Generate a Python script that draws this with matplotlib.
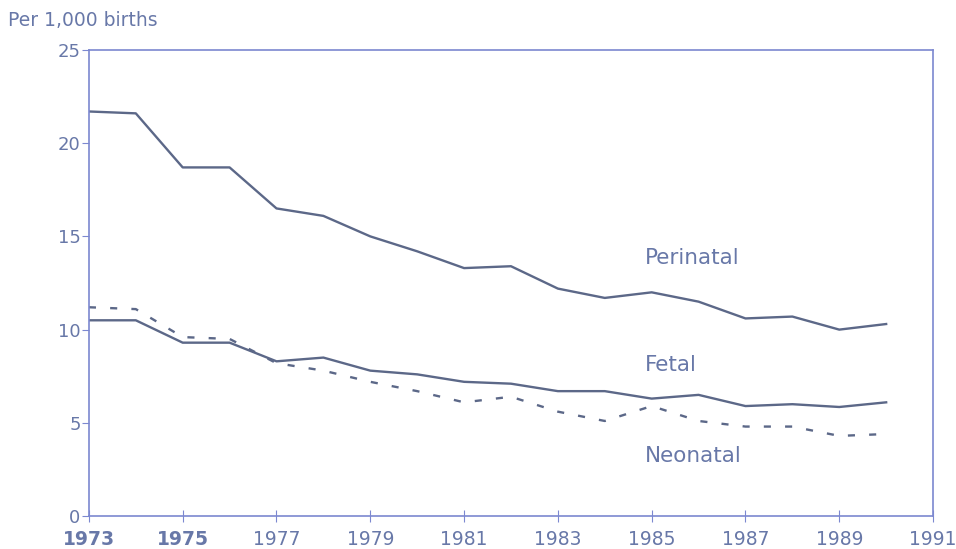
import matplotlib
matplotlib.use('Agg')
import matplotlib.pyplot as plt

# data
years = list(range(1973, 1991))
perinatal = [21.7, 21.6, 18.7, 18.7, 16.5, 16.1, 15.0, 14.2, 13.3, 13.4, 12.2, 11.7, 12.0, 11.5, 10.6, 10.7, 10.0, 10.3]
fetal = [10.5, 10.5, 9.3, 9.3, 8.3, 8.5, 7.8, 7.6, 7.2, 7.1, 6.7, 6.7, 6.3, 6.5, 5.9, 6.0, 5.85, 6.1]
neonatal = [11.2, 11.1, 9.6, 9.5, 8.2, 7.8, 7.2, 6.7, 6.1, 6.4, 5.6, 5.1, 5.9, 5.1, 4.8, 4.8, 4.3, 4.4]
xticks = list(range(1973, 1992, 2))
yticks = [0, 5, 10, 15, 20, 25]

txt = '#6878a8'
ln = '#5c6888'
ax_col = '#7c88d0'

fig = plt.figure(figsize=(9.56, 5.49), dpi=100)
ax = fig.add_axes([0.093, 0.060, 0.883, 0.849])

ax.plot(years, perinatal, color=ln, lw=1.7)
ax.plot(years, fetal, color=ln, lw=1.7)
ax.plot(years, neonatal, color=ln, lw=1.7, ls=(0, (3, 6)))

ax.set_xlim(1973, 1991)
ax.set_ylim(0, 25)
ax.set_xticks(xticks)
ax.set_yticks(yticks)
ax.tick_params(axis='x', direction='inout', length=8, colors=ax_col, labelcolor=txt, labelsize=13.5, pad=6)
ax.tick_params(axis='y', direction='out', length=5, colors=ax_col, labelcolor=txt, labelsize=13, pad=1)
for lab in ax.get_xticklabels()[:2]:
    lab.set_fontweight('bold')
for s in ax.spines.values():
    s.set_color(ax_col)
    s.set_linewidth(1.2)

ax.text(1984.85, 13.5, 'Perinatal', color=txt, fontsize=15.5)
ax.text(1984.85, 7.8, 'Fetal', color=txt, fontsize=15.5)
ax.text(1984.85, 2.9, 'Neonatal', color=txt, fontsize=15.5)
fig.text(0.008, 0.952, 'Per 1,000 births', color=txt, fontsize=13.5)

fig.savefig('out.png', dpi=100)
